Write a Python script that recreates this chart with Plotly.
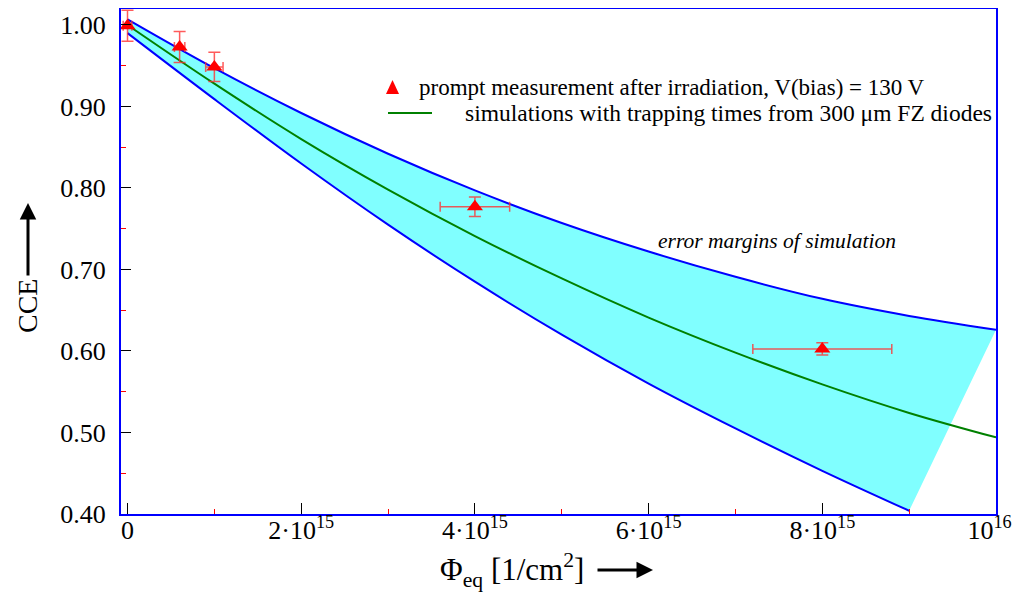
import plotly.graph_objects as go

# ---- data (fluence in units of 1e15 / cm^2) ----
meas_phi = [0.0, 0.6, 1.0, 4.0, 8.0]
meas_cce = [0.999, 0.973, 0.9485, 0.777, 0.6025]
meas_phi_err = [0.05, 0.06, 0.10, 0.40, 0.80]
meas_cce_err = [0.019, 0.019, 0.018, 0.012, 0.0075]

sim_phi = [0, 1, 2, 3, 4, 5, 6, 7, 8, 9, 10]
sim_cce = [1.000, 0.928, 0.860, 0.798, 0.741, 0.689, 0.641, 0.598, 0.559, 0.524, 0.494]

upper_phi = [0, 1, 2, 3, 4, 5, 6, 7, 8, 9, 10]
upper_cce = [1.007, 0.947, 0.892, 0.842, 0.797, 0.757, 0.722, 0.691, 0.664, 0.643, 0.626]

lower_phi = [0, 1, 2, 3, 4, 5, 6, 7, 8, 9]
lower_cce = [0.990, 0.909, 0.830, 0.755, 0.685, 0.620, 0.560, 0.505, 0.453, 0.404]

x_tickvals = [0, 2, 4, 6, 8, 10]
x_ticktext = ["0", "2\u00b710<sup>15</sup>", "4\u00b710<sup>15</sup>", "6\u00b710<sup>15</sup>",
              "8\u00b710<sup>15</sup>", "10<sup>16</sup>\u00a0\u00a0"]
y_tickvals = [0.40, 0.50, 0.60, 0.70, 0.80, 0.90, 1.00]
y_ticktext = ["0.40", "0.50", "0.60", "0.70", "0.80", "0.90", "1.00"]

FONT = "Liberation Serif, Times New Roman, serif"
BLUE = "#0000FF"
CYAN = "#80FFFF"
GREEN = "#008000"
RED = "#FF0000"
ERR = "rgba(255,50,50,0.8)"

fig = go.Figure()

# error band (filled polygon between upper and lower margins)
fig.add_trace(go.Scatter(
    x=upper_phi + lower_phi[::-1],
    y=upper_cce + lower_cce[::-1],
    fill="toself", fillcolor=CYAN, mode="lines",
    line=dict(width=0, color=CYAN), hoverinfo="skip", showlegend=False))

fig.add_trace(go.Scatter(x=upper_phi, y=upper_cce, mode="lines",
                         line=dict(color=BLUE, width=2, shape="spline"), showlegend=False))
fig.add_trace(go.Scatter(x=lower_phi, y=lower_cce, mode="lines",
                         line=dict(color=BLUE, width=2, shape="spline"), showlegend=False))
fig.add_trace(go.Scatter(x=sim_phi, y=sim_cce, mode="lines",
                         line=dict(color=GREEN, width=2, shape="spline"), showlegend=False))

fig.add_trace(go.Scatter(
    x=meas_phi, y=meas_cce, mode="markers",
    marker=dict(symbol="triangle-up", size=14, color=RED),
    error_x=dict(type="data", array=meas_phi_err, color=ERR, thickness=1.5, width=5),
    error_y=dict(type="data", array=meas_cce_err, color=ERR, thickness=1.5, width=6),
    showlegend=False, cliponaxis=False))

# page has an 8px body margin: figure is drawn at page offset (8, 8)
fig.update_layout(
    width=1015, height=584,
    margin=dict(l=113, r=27, t=1, b=78, autoexpand=False),
    paper_bgcolor="white", plot_bgcolor="white",
    font=dict(family=FONT, color="black", size=26),
)

fig.update_xaxes(
    range=[-0.075, 10], showgrid=False, zeroline=False, automargin=False,
    showline=True, linecolor=BLUE, linewidth=2, mirror=True,
    tickmode="array", tickvals=x_tickvals, ticktext=x_ticktext,
    ticks="inside", ticklen=11, tickcolor="black", tickwidth=1,
    tickfont=dict(family=FONT, size=26), ticklabelstandoff=-8,
    ticklabeloverflow="allow",
    minor=dict(tickmode="array", tickvals=[1, 3, 5, 7, 9], ticks="inside",
               ticklen=5, tickcolor=RED, tickwidth=1),
)
fig.update_yaxes(
    range=[0.40, 1.0196], showgrid=False, zeroline=False, automargin=False,
    showline=True, linecolor=BLUE, linewidth=2, mirror=True,
    tickmode="array", tickvals=y_tickvals, ticktext=y_ticktext,
    ticks="inside", ticklen=10, tickcolor="black", tickwidth=1,
    tickfont=dict(family=FONT, size=26), ticklabelstandoff=8,
    minor=dict(tickmode="array", tickvals=[0.45, 0.55, 0.65, 0.75, 0.85, 0.95], ticks="inside",
               ticklen=5, tickcolor=RED, tickwidth=1),
)

# helpers: page pixel -> paper coords
PW, PH = 875.0, 505.0
def px(xp):
    return (xp - 121) / PW
def py(yp):
    return (514 - yp) / PH

annotations = [
    # axis titles
    dict(text="CCE", x=px(27), y=py(306), xref="paper", yref="paper", showarrow=False,
         textangle=-90, font=dict(family=FONT, size=28), xanchor="center", yanchor="middle"),
    dict(text="", x=px(28), y=py(203), xref="paper", yref="paper", showarrow=True,
         ax=0, ay=74, arrowhead=2, arrowsize=1.1, arrowwidth=3, arrowcolor="black"),
    dict(text="\u03a6<sub>eq</sub> [1/cm<sup>2</sup>]", x=px(512), y=py(570), xref="paper", yref="paper",
         showarrow=False, font=dict(family=FONT, size=31), xanchor="center", yanchor="middle"),
    dict(text="", x=px(653), y=py(570), xref="paper", yref="paper", showarrow=True,
         ax=-57, ay=0, arrowhead=2, arrowsize=1.1, arrowwidth=3, arrowcolor="black"),
    # legend texts
    dict(text="prompt measurement after irradiation, V(bias) = 130 V", x=px(417), y=py(87),
         xref="paper", yref="paper", showarrow=False, xanchor="left", yanchor="middle",
         font=dict(family=FONT, size=23)),
    dict(text="simulations with trapping times from 300 \u03bcm FZ diodes", x=px(463), y=py(113),
         xref="paper", yref="paper", showarrow=False, xanchor="left", yanchor="middle",
         font=dict(family=FONT, size=23.5)),
    dict(text="<i>error margins of simulation</i>", x=px(656), y=py(241),
         xref="paper", yref="paper", showarrow=False, xanchor="left", yanchor="middle",
         font=dict(family=FONT, size=21.5)),
]
fig.update_layout(annotations=annotations)

shapes = [
    # legend triangle symbol
    dict(type="path", xref="paper", yref="paper",
         path=f"M {px(386)},{py(94)} L {px(399)},{py(94)} L {px(392.5)},{py(80)} Z",
         fillcolor=RED, line=dict(width=0)),
    # legend green line
    dict(type="line", xref="paper", yref="paper", x0=px(388), x1=px(432), y0=py(113), y1=py(113),
         line=dict(color=GREEN, width=2)),
]
fig.update_layout(shapes=shapes)

fig.write_html("out.html")
